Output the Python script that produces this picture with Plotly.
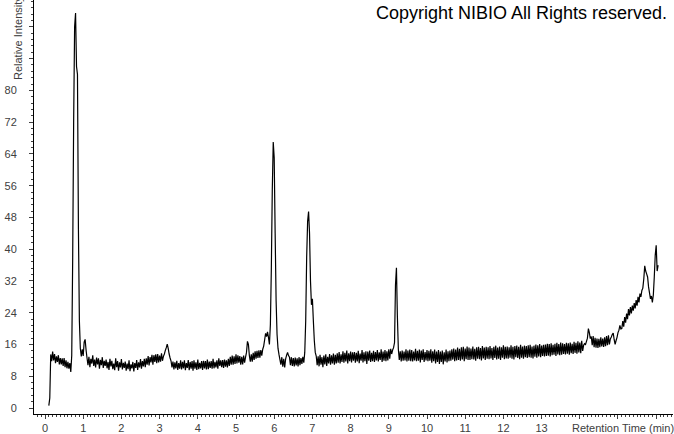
import plotly.graph_objects as go

# Sampling grid of the chromatogram (minutes)
start_time = 0.10
time_step = 0.025

# Relative intensity readings (one row = 0.5 min)
intensity = [
    0.6, 2.5, 13.5, 11.8, 14.2, 12.0, 13.6, 11.3, 13.0, 11.6, 13.3, 11.0, 12.6, 11.0, 12.5, 10.6, 12.6, 10.3, 12.0, 10.0,
    11.6, 9.9, 11.3, 9.1, 13.2, 38.0, 72.0, 96.0, 99.5, 86.0, 84.0, 45.0, 22.0, 15.0, 13.0, 14.8, 13.1, 16.6, 17.3, 14.6,
    12.6, 10.8, 12.9, 10.3, 12.4, 11.2, 13.3, 10.6, 12.2, 10.2, 12.7, 11.0, 12.5, 9.9, 12.1, 10.8, 12.8, 10.1, 11.9, 10.6,
    12.2, 10.0, 11.6, 9.6, 12.4, 10.5, 11.9, 9.8, 11.2, 9.5, 12.5, 10.3, 11.8, 9.4, 11.5, 10.2, 12.3, 9.7, 11.4, 10.1,
    11.7, 9.4, 11.2, 9.8, 12.0, 9.3, 11.0, 10.0, 11.6, 9.2, 11.3, 10.1, 12.1, 9.6, 11.5, 10.2, 12.3, 9.9, 11.8, 10.5,
    12.4, 10.3, 12.5, 10.9, 13.1, 10.7, 12.8, 11.5, 13.4, 10.9, 13.3, 11.6, 13.5, 11.3, 13.6, 11.5, 13.2, 11.7, 13.8, 11.9,
    13.0, 13.6, 14.5, 15.2, 16.1, 15.0, 13.6, 12.6, 11.8, 10.2, 11.7, 9.7, 11.5, 10.0, 11.9, 9.6, 11.3, 9.9, 12.0, 9.7,
    11.6, 10.0, 12.0, 9.5, 11.3, 10.1, 12.1, 9.5, 11.6, 9.9, 11.8, 9.4, 12.0, 9.9, 11.5, 9.6, 12.2, 9.8, 11.4, 10.0,
    11.8, 9.6, 11.9, 10.0, 11.8, 9.7, 12.2, 9.8, 11.7, 10.1, 11.8, 9.9, 12.4, 10.0, 11.6, 10.2, 12.0, 9.9, 12.5, 10.6,
    12.0, 10.3, 12.1, 10.1, 12.2, 10.4, 12.0, 10.2, 12.4, 10.6, 12.9, 10.9, 13.2, 10.9, 13.0, 11.1, 13.5, 11.2, 13.3, 11.4,
    13.1, 10.9, 12.9, 11.0, 13.2, 11.4, 12.8, 14.0, 16.8, 16.0, 13.2, 11.7, 13.5, 11.7, 13.9, 12.1, 14.3, 12.4, 14.4, 12.6,
    14.5, 12.7, 14.6, 13.2, 14.8, 15.6, 17.2, 18.8, 18.0, 19.2, 17.8, 16.0, 21.0, 35.0, 55.0, 67.0, 63.0, 44.0, 27.0, 18.5,
    15.0, 13.5, 12.2, 10.9, 12.8, 10.4, 12.4, 10.2, 12.4, 13.3, 14.0, 13.2, 12.8, 10.8, 12.8, 10.6, 12.6, 10.5, 12.7, 10.7,
    12.5, 10.5, 12.8, 10.8, 12.6, 11.1, 12.9, 11.4, 14.0, 22.0, 38.0, 47.0, 49.5, 44.0, 32.0, 26.0, 27.5, 22.0, 17.0, 14.0,
    13.1, 10.8, 13.0, 10.5, 13.4, 10.9, 12.8, 10.3, 13.2, 11.0, 13.5, 10.6, 12.9, 11.2, 13.6, 10.9, 13.3, 11.2, 13.7, 10.9,
    13.4, 11.2, 13.8, 11.4, 14.1, 11.2, 13.5, 11.6, 14.3, 11.4, 13.9, 11.7, 14.5, 11.2, 13.8, 11.8, 14.2, 11.5, 14.0, 11.9,
    14.1, 11.4, 13.9, 11.7, 14.4, 11.3, 13.7, 11.9, 14.6, 11.5, 14.0, 11.8, 14.3, 11.1, 14.2, 11.9, 14.5, 11.6, 13.9, 11.8,
    14.4, 11.6, 14.1, 12.0, 14.6, 11.7, 14.0, 12.1, 14.8, 11.6, 14.2, 11.9, 14.6, 11.8, 14.3, 12.0, 14.8, 12.4, 14.9, 13.6,
    14.6, 15.2, 16.5, 31.0, 35.3, 23.0, 14.8, 12.1, 14.3, 11.7, 14.5, 11.9, 14.2, 12.0, 14.8, 11.7, 14.5, 11.9, 14.7, 11.8,
    14.6, 11.7, 14.2, 12.0, 14.9, 11.8, 14.4, 11.9, 14.7, 11.5, 14.5, 12.1, 14.8, 11.6, 14.1, 12.0, 14.6, 11.8, 14.4, 11.9,
    14.8, 11.4, 14.3, 11.8, 14.7, 11.2, 14.2, 11.6, 14.6, 11.1, 14.2, 11.6, 14.5, 11.0, 14.0, 11.7, 14.7, 11.5, 14.3, 11.8,
    14.5, 11.9, 14.8, 12.2, 15.0, 11.8, 14.7, 12.0, 15.2, 12.1, 14.9, 11.9, 15.3, 12.2, 15.4, 11.8, 15.0, 12.3, 15.5, 12.1,
    15.2, 12.1, 15.0, 12.3, 15.5, 12.2, 14.9, 11.9, 15.3, 12.4, 15.4, 12.3, 15.1, 12.0, 15.6, 12.5, 15.2, 12.1, 15.4, 12.4,
    15.3, 12.3, 15.6, 12.5, 15.1, 12.1, 15.4, 12.6, 15.7, 12.2, 15.2, 12.4, 15.5, 12.1, 15.3, 12.7, 15.8, 12.3, 15.4, 12.5,
    15.5, 12.4, 15.3, 12.7, 15.8, 12.4, 15.4, 12.2, 15.6, 12.8, 15.7, 12.6, 15.4, 12.3, 15.9, 12.7, 15.5, 12.4, 15.7, 12.8,
    15.6, 12.6, 15.8, 12.8, 15.9, 12.7, 15.5, 12.5, 15.7, 12.9, 16.0, 12.7, 15.8, 13.0, 16.1, 12.8, 15.7, 13.1, 15.9, 13.0,
    16.0, 13.1, 16.2, 13.2, 16.1, 13.0, 16.3, 13.3, 15.9, 13.4, 16.2, 13.1, 16.4, 13.5, 16.1, 13.3, 16.5, 13.4, 16.3, 13.6,
    16.1, 13.5, 16.4, 13.7, 16.3, 13.4, 16.5, 13.8, 16.2, 13.6, 16.7, 13.9, 16.4, 13.7, 16.8, 14.0, 16.5, 13.8, 16.9, 14.4,
    15.8, 16.2, 16.0, 16.8, 17.6, 20.0, 19.0, 17.5, 18.0, 15.8, 18.1, 15.3, 17.7, 15.2, 17.5, 15.1, 17.4, 15.3, 17.8, 15.5,
    17.5, 15.4, 17.8, 15.6, 18.1, 15.8, 18.3, 16.0, 17.4, 17.9, 18.5, 18.9, 17.2, 16.0, 17.0, 17.8, 19.0, 19.6, 20.8, 19.9,
    20.0, 21.9, 20.5, 22.9, 21.5, 23.8, 22.4, 24.9, 23.3, 25.4, 23.8, 25.8, 24.5, 26.4, 25.1, 27.2, 25.8, 28.0, 26.6, 28.8,
    28.0, 29.6, 30.2, 32.5, 35.8, 34.5, 33.8, 33.0, 30.5, 29.0, 27.5, 28.2, 26.6, 28.5, 33.0, 38.5, 41.0, 34.5, 36.0,
]
retention_time = [round(start_time + time_step * i, 3) for i in range(len(intensity))]

# Axis ticks
x_tick_values = list(range(0, 17))
x_tick_text = [str(v) if v <= 13 else "" for v in x_tick_values]
y_tick_values = list(range(0, 97, 8))
y_tick_text = [str(v) if v <= 80 else "" for v in y_tick_values]

label_font = dict(family="Liberation Sans, Arial, sans-serif", size=11, color="#404040")

fig = go.Figure()
fig.add_trace(go.Scatter(
    x=retention_time, y=intensity, mode="lines",
    line=dict(color="black", width=1.2, simplify=False),
    hoverinfo="skip", showlegend=False,
))

fig.update_layout(
    width=674, height=434,
    margin=dict(l=34, r=1, t=0, b=20, pad=0),
    paper_bgcolor="white", plot_bgcolor="white",
    font=label_font,
    xaxis=dict(
        range=[-0.288, 16.44], showgrid=False, zeroline=False, automargin=False,
        showline=True, linecolor="black", linewidth=1,
        tickmode="array", tickvals=x_tick_values, ticktext=x_tick_text,
        ticks="outside", ticklen=4, tickwidth=1, tickcolor="#404040",
        tickfont=label_font,
        minor=dict(dtick=0.1, ticks="outside", ticklen=2, tickcolor="#404040", showgrid=False),
    ),
    yaxis=dict(
        range=[-1.51, 102.77], showgrid=False, zeroline=False, automargin=False,
        showline=True, linecolor="black", linewidth=1,
        tickmode="array", tickvals=y_tick_values, ticktext=y_tick_text,
        ticks="outside", ticklen=4, tickwidth=1, tickcolor="#404040",
        ticklabelstandoff=10,
        tickfont=label_font,
        minor=dict(dtick=1.6, ticks="outside", ticklen=2, tickcolor="#404040", showgrid=False),
    ),
    annotations=[
        dict(text="Copyright NIBIO All Rights reserved.", xref="paper", yref="paper",
             x=1.0, y=1.0, xanchor="right", yanchor="top", xshift=-4, yshift=-1,
             showarrow=False,
             font=dict(family="Liberation Sans, Arial, sans-serif", size=18, color="black")),
        dict(text="Retention Time (min)", xref="paper", yref="paper",
             x=1.0, y=0, xanchor="right", yanchor="top", xshift=3, yshift=-6,
             showarrow=False, font=label_font),
        dict(text="Relative Intensity", xref="paper", yref="paper",
             x=0, y=1.0, xanchor="center", yanchor="top", xshift=-16, yshift=6,
             textangle=-90, showarrow=False, font=label_font),
    ],
)

fig.write_html(
    "out.html",
    config={"displayModeBar": False},
    post_script="document.body.style.margin='0';document.body.style.padding='0';",
)
